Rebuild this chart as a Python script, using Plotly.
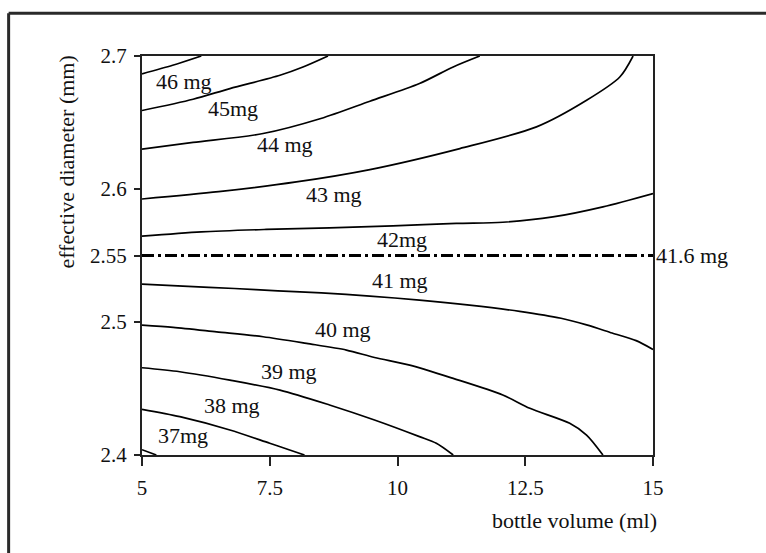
import plotly.graph_objects as go

# bottle volume (ml) vs effective diameter (mm) iso-mass curves
mg46_x = [5.0, 5.6, 6.16]
mg46_y = [2.6866, 2.6930, 2.7000]

mg45_x = [5.0, 6.0, 6.72, 7.70, 8.15, 8.64]
mg45_y = [2.6590, 2.6675, 2.6755, 2.6855, 2.6917, 2.7000]

mg44_x = [5.0, 6.0, 7.37, 8.5, 9.46, 10.43, 11.09, 11.61]
mg44_y = [2.6300, 2.6350, 2.6417, 2.6530, 2.6660, 2.6793, 2.6918, 2.7000]

mg43_x = [5.0, 6.5, 8.02, 9.46, 11.22, 12.72, 13.70, 14.35, 14.61]
mg43_y = [2.5925, 2.5980, 2.6053, 2.6146, 2.6304, 2.6467, 2.6667, 2.6842, 2.7000]

mg42_x = [5.0, 6.16, 7.43, 8.67, 9.91, 11.15, 12.06, 13.04, 14.02, 15.0]
mg42_y = [2.5645, 2.5678, 2.5696, 2.5708, 2.5723, 2.5741, 2.5750, 2.5790, 2.5866, 2.5966]

mg41_x = [5.0, 5.80, 6.81, 7.66, 8.51, 9.46, 10.43, 11.41, 12.39, 13.2, 13.7, 14.2, 14.67, 15.0]
mg41_y = [2.5285, 2.5270, 2.5252, 2.5234, 2.5219, 2.5195, 2.5165, 2.5127, 2.5080,
          2.5028, 2.4978, 2.4917, 2.4860, 2.4794]

mg40_x = [5.0, 5.61, 6.46, 7.37, 8.22, 9.0, 9.55, 10.24, 11.09, 12.06, 12.59, 13.37, 13.70, 14.02]
mg40_y = [2.4977, 2.4960, 2.4926, 2.4889, 2.4839, 2.4789, 2.4733, 2.4676, 2.4576,
          2.4451, 2.4351, 2.4238, 2.4150, 2.4000]

mg39_x = [5.0, 5.74, 6.72, 7.70, 8.67, 9.55, 10.43, 10.76, 11.09]
mg39_y = [2.4656, 2.4626, 2.4563, 2.4488, 2.4376, 2.4263, 2.4138, 2.4088, 2.4000]

mg38_x = [5.0, 5.74, 6.72, 7.5, 7.89, 8.18]
mg38_y = [2.4343, 2.4288, 2.4188, 2.4088, 2.4038, 2.4000]

mg37_x = [5.0, 5.28]
mg37_y = [2.4040, 2.4000]

curves = [
    (mg46_x, mg46_y), (mg45_x, mg45_y), (mg44_x, mg44_y), (mg43_x, mg43_y),
    (mg42_x, mg42_y), (mg41_x, mg41_y), (mg40_x, mg40_y), (mg39_x, mg39_y),
    (mg38_x, mg38_y), (mg37_x, mg37_y),
]

curve_labels = ["46 mg", "45mg", "44 mg", "43 mg", "42mg", "41 mg", "40 mg", "39 mg", "38 mg", "37mg"]
label_x = [5.83, 6.79, 7.79, 8.76, 10.08, 10.05, 8.93, 7.87, 6.76, 5.80]
label_y = [2.6812, 2.6609, 2.6336, 2.5961, 2.5623, 2.5314, 2.4943, 2.4626, 2.4370, 2.4143]

# optimum diameter line
opt_diameter = 2.55
opt_label = "41.6 mg"

x_ticks = [5, 7.5, 10, 12.5, 15]
y_ticks = [2.4, 2.5, 2.55, 2.6, 2.7]

FONT = "Liberation Serif, Times New Roman, serif"
FS = 22
TICK_FS = 21

fig = go.Figure()

for cx, cy in curves:
    fig.add_trace(go.Scatter(x=cx, y=cy, mode="lines",
                             line=dict(color="black", width=1.7, shape="spline", smoothing=0.8),
                             hoverinfo="skip", showlegend=False))

fig.add_trace(go.Scatter(x=[5, 15], y=[opt_diameter, opt_diameter], mode="lines",
                         line=dict(color="black", width=3, dash="12px,4px,3px,4px"),
                         showlegend=False, hoverinfo="skip"))

annotations = []
for t, lx, ly in zip(curve_labels, label_x, label_y):
    annotations.append(dict(x=lx, y=ly, xref="x", yref="y", text=t, showarrow=False,
                            xanchor="center", yanchor="middle",
                            font=dict(family=FONT, size=FS, color="#111")))

annotations.append(dict(x=15, y=opt_diameter, xref="x", yref="y", text=opt_label,
                        showarrow=False, xanchor="left", yanchor="middle", xshift=1,
                        font=dict(family=FONT, size=FS, color="#111")))

# axis titles
annotations.append(dict(x=-0.147, y=0.735, xref="paper", yref="paper",
                        xanchor="center", yanchor="middle",
                        text="effective diameter (mm)", textangle=-90, showarrow=False,
                        font=dict(family=FONT, size=FS, color="#111")))
annotations.append(dict(x=1.012, y=-0.163, xref="paper", yref="paper",
                        xanchor="right", yanchor="middle",
                        text="bottle volume (ml)", showarrow=False,
                        font=dict(family=FONT, size=FS, color="#111")))

shapes = [
    dict(type="line", xref="paper", yref="paper", x0=-0.261, x1=-0.261, y0=-0.4, y1=1.107,
         line=dict(color="#2a2a2a", width=3)),
    dict(type="line", xref="paper", yref="paper", x0=-0.261, x1=1.3, y0=1.107, y1=1.107,
         line=dict(color="#2a2a2a", width=3)),
]

fig.update_layout(
    width=766, height=553,
    margin=dict(l=142, r=113, t=56, b=98),
    paper_bgcolor="white", plot_bgcolor="white",
    font=dict(family=FONT, size=TICK_FS, color="#111"),
    annotations=annotations, shapes=shapes,
    showlegend=False,
)
fig.update_xaxes(range=[5, 15], tickvals=x_ticks, ticktext=[f"{v:g}" for v in x_ticks],
                 showgrid=False, zeroline=False, showline=True, mirror=True,
                 linecolor="#222", linewidth=2, ticks="outside", ticklen=9,
                 tickcolor="#222", tickwidth=2, ticklabelstandoff=4)
fig.update_yaxes(range=[2.4, 2.7], tickvals=y_ticks, ticktext=[f"{v:g}" for v in y_ticks],
                 showgrid=False, zeroline=False, showline=True, mirror=True,
                 linecolor="#222", linewidth=2, ticks="outside", ticklen=6,
                 tickcolor="#222", tickwidth=2, ticklabelstandoff=3)

fig.write_html("out.html")
